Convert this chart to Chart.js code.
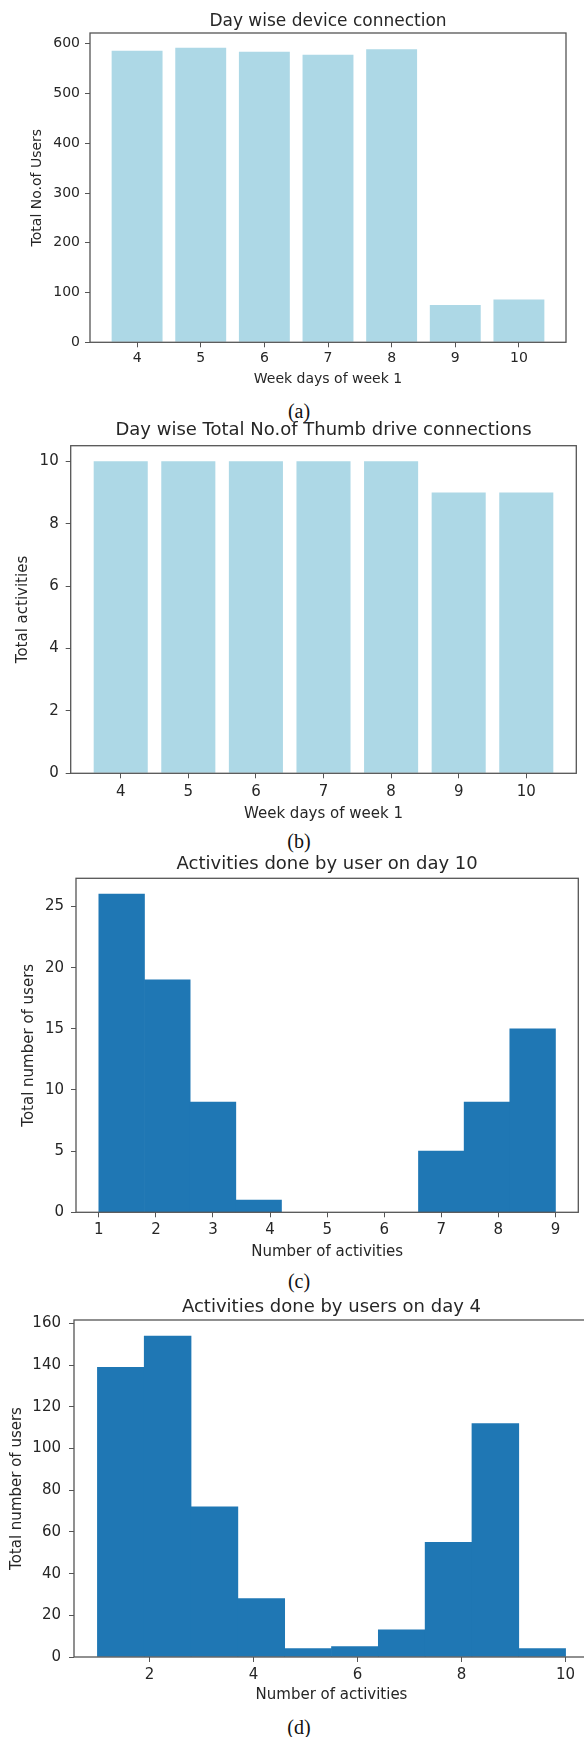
<!DOCTYPE html>
<html>
<head>
<meta charset="utf-8">
<script src="https://cdn.jsdelivr.net/npm/chart.js@4"></script>
<style>
  html, body { margin: 0; padding: 0; background: #fff; }
  body { position: relative; width: 584px; height: 1737px; overflow: hidden; }
  canvas { position: absolute; left: 0; }
  .cap { position: absolute; left: 249px; width: 100px; text-align: center;
         font: 20px/20px "Liberation Serif", "Times New Roman", serif; color: #111; }
</style>
</head>
<body>
<canvas id="chartA" width="584" height="388" style="top:0px"></canvas>
<div class="cap" style="top:401px">(a)</div>
<canvas id="chartB" width="584" height="408" style="top:415px"></canvas>
<div class="cap" style="top:831px">(b)</div>
<canvas id="chartC" width="584" height="411" style="top:850px"></canvas>
<div class="cap" style="top:1271px">(c)</div>
<canvas id="chartD" width="600" height="414" style="top:1290px"></canvas>
<div class="cap" style="top:1717px">(d)</div>

<script>
// week 1 days
const days = [4, 5, 6, 7, 8, 9, 10];
const usersPerDay = [586, 592, 584, 578, 589, 75, 86];
const thumbDriveActivities = [10, 10, 10, 10, 10, 9, 9];

// histogram bins (edges) and counts
const day10Edges = [1, 1.8, 2.6, 3.4, 4.2, 5, 5.8, 6.6, 7.4, 8.2, 9];
const day10Counts = [26, 19, 9, 1, 0, 0, 0, 5, 9, 15];
const day4Edges = [1, 1.9, 2.8, 3.7, 4.6, 5.5, 6.4, 7.3, 8.2, 9.1, 10];
const day4Counts = [139, 154, 72, 28, 4, 5, 13, 55, 112, 4];

const TEXT = "#262626";
const AXIS = "#555";

const barPoints = (xs, ys) => xs.map((x, i) => ({ x, y: ys[i] }));
const binPoints = (edges, counts) => counts.map((c, i) => ({ x: (edges[i] + edges[i + 1]) / 2, y: c }));

const frameBox = {
    id: "frameBox",
    afterDatasetsDraw(chart, args, opts) {
        const { ctx, chartArea: a } = chart;
        ctx.save();
        ctx.strokeStyle = opts.color;
        ctx.lineWidth = opts.width;
        ctx.strokeRect(a.left, a.top, a.right - a.left, a.bottom - a.top);
        ctx.restore();
    }
};

const panelTitle = {
    id: "panelTitle",
    afterDraw(chart, args, opts) {
        const { ctx, chartArea: a } = chart;
        ctx.save();
        ctx.font = opts.size + "px 'DejaVu Sans'";
        ctx.fillStyle = TEXT;
        ctx.textAlign = "center";
        ctx.textBaseline = "alphabetic";
        ctx.fillText(opts.text, (a.left + a.right) / 2, opts.baseline);
        ctx.restore();
    }
};

function drawPanel(id, p) {
    const canvas = document.getElementById(id);
    const font = { size: p.fontSize, family: "DejaVu Sans" };
    return new Chart(canvas, {
        type: "bar",
        data: {
            datasets: [{
                data: p.points,
                backgroundColor: p.color,
                borderWidth: 0,
                barPercentage: p.barPct,
                categoryPercentage: 1
            }]
        },
        options: {
            responsive: false,
            animation: false,
            events: [],
            layout: { padding: { top: p.frame.top, right: canvas.width - p.frame.right, left: 0, bottom: 0 } },
            plugins: {
                legend: { display: false },
                tooltip: { enabled: false },
                frameBox: { color: AXIS, width: 1.3 },
                panelTitle: { text: p.title, size: p.titleSize, baseline: p.titleBaseline }
            },
            scales: {
                x: {
                    type: "linear",
                    min: p.xMin,
                    max: p.xMax,
                    offset: false,
                    grid: { offset: false, drawOnChartArea: false, drawTicks: true, tickLength: 5, color: AXIS },
                    border: { display: false },
                    ticks: { stepSize: p.xStep, includeBounds: false, padding: p.xPad, color: TEXT, font, maxRotation: 0, autoSkip: false },
                    title: { display: true, text: p.xLabel, color: TEXT, font, padding: 0 },
                    afterFit: s => { s.height = canvas.height - p.frame.bottom; }
                },
                y: {
                    type: "linear",
                    min: 0,
                    max: p.yMax,
                    grid: { drawOnChartArea: false, drawTicks: true, tickLength: 5, color: AXIS },
                    border: { display: false },
                    ticks: { stepSize: p.yStep, includeBounds: false, padding: p.yPad, color: TEXT, font },
                    title: { display: true, text: p.yLabel, color: TEXT, font, padding: { top: p.yTitlePad, bottom: 0 } },
                    afterFit: s => { s.width = p.frame.left; }
                }
            }
        },
        plugins: [frameBox, panelTitle]
    });
}

drawPanel("chartA", {
    points: barPoints(days, usersPerDay), color: "#ADD8E6", barPct: 0.8,
    title: "Day wise device connection", titleSize: 17, titleBaseline: 26,
    xLabel: "Week days of week 1", yLabel: "Total No.of Users", fontSize: 14,
    frame: { left: 90, top: 33, right: 566, bottom: 342.3 },
    xMin: 3.26, xMax: 10.74, xStep: 1, xPad: 3,
    yMax: 621.6, yStep: 100, yPad: 5, yTitlePad: 28.6
});

drawPanel("chartB", {
    points: barPoints(days, thumbDriveActivities), color: "#ADD8E6", barPct: 0.8,
    title: "Day wise Total No.of Thumb drive connections", titleSize: 18, titleBaseline: 20,
    xLabel: "Week days of week 1", yLabel: "Total activities", fontSize: 15,
    frame: { left: 70.7, top: 30.7, right: 576.3, bottom: 358.3 },
    xMin: 3.26, xMax: 10.74, xStep: 1, xPad: 5,
    yMax: 10.5, yStep: 2, yPad: 7, yTitlePad: 14.3
});

drawPanel("chartC", {
    points: binPoints(day10Edges, day10Counts), color: "#1f77b4", barPct: 1,
    title: "Activities done by user on day 10", titleSize: 18, titleBaseline: 19,
    xLabel: "Number of activities", yLabel: "Total number of users", fontSize: 15,
    frame: { left: 76, top: 28.3, right: 578.3, bottom: 362.3 },
    xMin: 0.6, xMax: 9.4, xStep: 1, xPad: 4,
    yMax: 27.3, yStep: 5, yPad: 7, yTitlePad: 20.5
});

drawPanel("chartD", {
    points: binPoints(day4Edges, day4Counts), color: "#1f77b4", barPct: 1,
    title: "Activities done by users on day 4", titleSize: 18, titleBaseline: 21.5,
    xLabel: "Number of activities", yLabel: "Total number of users", fontSize: 15,
    frame: { left: 74, top: 30, right: 589, bottom: 367 },
    xMin: 0.55, xMax: 10.45, xStep: 2, xPad: 4,
    yMax: 161.7, yStep: 20, yPad: 8, yTitlePad: 7.7
});
</script>
</body>
</html>
